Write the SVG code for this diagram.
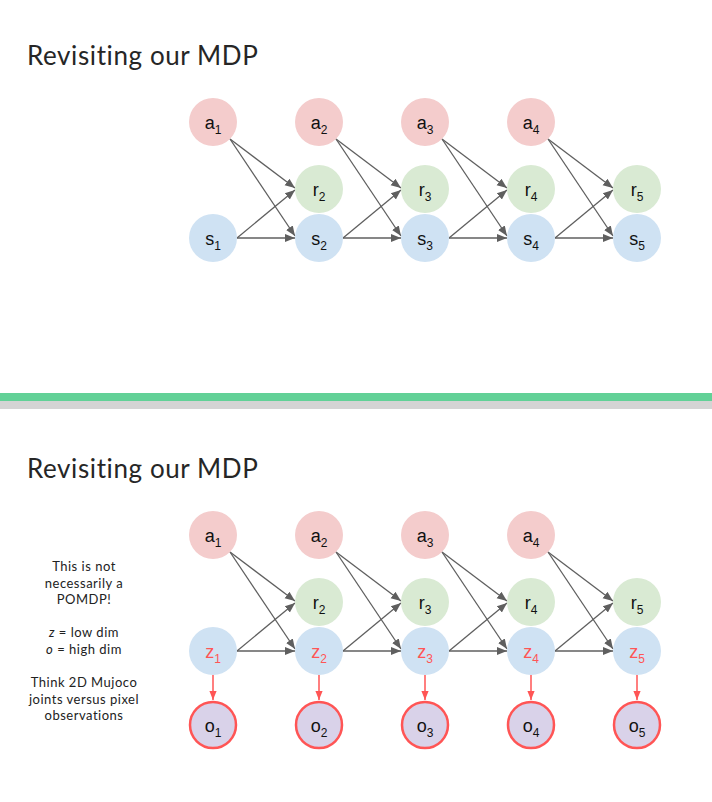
<svg xmlns="http://www.w3.org/2000/svg" width="712" height="802" viewBox="0 0 712 802">
<style>
.title{font-family:Lato,"Liberation Sans",sans-serif;font-size:26px;letter-spacing:0.6px;fill:#262626}
.note{font-family:Lato,"Liberation Sans",sans-serif;font-size:13px;letter-spacing:0.5px;fill:#222;text-anchor:middle}
.lbl{font-family:"Liberation Sans",Arial,sans-serif;font-size:18px;fill:#111;text-anchor:middle}
.sub{font-size:12px}
.zl{fill:#ff5555}
.a{fill:#f4cccc}
.r{fill:#d9ead3}
.s{fill:#cfe2f3}
.o{fill:#d9d2e9;stroke:#ff5555;stroke-width:2.5}
.e{stroke:#5f5f5f;stroke-width:1.3;fill:none;marker-end:url(#ag)}
.er{stroke:#ff5555;stroke-width:1.5;fill:none;marker-end:url(#ar)}
</style>
<defs>
<marker id="ag" markerUnits="userSpaceOnUse" markerWidth="10" markerHeight="10" viewBox="0 0 10 10" refX="10" refY="5" orient="auto"><path d="M0,1 L10,5 L0,9 z" fill="#5f5f5f"/></marker>
<marker id="ar" markerUnits="userSpaceOnUse" markerWidth="9" markerHeight="9" viewBox="0 0 10 10" refX="10" refY="5" orient="auto"><path d="M0,1 L10,5 L0,9 z" fill="#ff5555"/></marker>
</defs>
<rect width="712" height="802" fill="#fff"/>

<text class="title" x="27" y="65">Revisiting our MDP</text>
<text class="title" x="27" y="478">Revisiting our MDP</text>

<rect x="0" y="393" width="712" height="8" fill="#62d197"/>
<rect x="0" y="401" width="712" height="8" fill="#d4d4d4"/>

<g id="note">
<text class="note" x="84" y="571">This is not</text>
<text class="note" x="84" y="587.5">necessarily a</text>
<text class="note" x="84" y="604">POMDP!</text>
<text class="note" x="84" y="637"><tspan font-style="italic">z</tspan> = low dim</text>
<text class="note" x="84" y="653.5"><tspan font-style="italic">o</tspan> = high dim</text>
<text class="note" x="84" y="687">Think 2D Mujoco</text>
<text class="note" x="84" y="703.5">joints versus pixel</text>
<text class="note" x="84" y="720">observations</text>
</g>

<g id="connectors">
<path class="e" d="M230,139 L295,188"/><path class="e" d="M230,139 L295,236"/><path class="e" d="M237,238 L295,190"/><path class="e" d="M237,238 L295,238"/>
<path class="e" d="M336,139 L401,188"/><path class="e" d="M336,139 L401,236"/><path class="e" d="M343,238 L401,190"/><path class="e" d="M343,238 L401,238"/>
<path class="e" d="M442,139 L507,188"/><path class="e" d="M442,139 L507,236"/><path class="e" d="M449,238 L507,190"/><path class="e" d="M449,238 L507,238"/>
<path class="e" d="M548,139 L613,188"/><path class="e" d="M548,139 L613,236"/><path class="e" d="M555,238 L613,190"/><path class="e" d="M555,238 L613,238"/>

<path class="e" d="M230,552 L295,601"/><path class="e" d="M230,552 L295,649"/><path class="e" d="M237,651 L295,603"/><path class="e" d="M237,651 L295,651"/>
<path class="e" d="M336,552 L401,601"/><path class="e" d="M336,552 L401,649"/><path class="e" d="M343,651 L401,603"/><path class="e" d="M343,651 L401,651"/>
<path class="e" d="M442,552 L507,601"/><path class="e" d="M442,552 L507,649"/><path class="e" d="M449,651 L507,603"/><path class="e" d="M449,651 L507,651"/>
<path class="e" d="M548,552 L613,601"/><path class="e" d="M548,552 L613,649"/><path class="e" d="M555,651 L613,603"/><path class="e" d="M555,651 L613,651"/>

<path class="er" d="M213,675 L213,700"/>
<path class="er" d="M319,675 L319,700"/>
<path class="er" d="M425,675 L425,700"/>
<path class="er" d="M531,675 L531,700"/>
<path class="er" d="M637,675 L637,700"/>
</g>

<!-- top panel nodes -->
<g id="t-a1"><circle class="a" cx="213" cy="122" r="24"/><text class="lbl" x="213" y="129">a<tspan class="sub" dy="5">1</tspan></text></g>
<g id="t-a2"><circle class="a" cx="319" cy="122" r="24"/><text class="lbl" x="319" y="129">a<tspan class="sub" dy="5">2</tspan></text></g>
<g id="t-a3"><circle class="a" cx="425" cy="122" r="24"/><text class="lbl" x="425" y="129">a<tspan class="sub" dy="5">3</tspan></text></g>
<g id="t-a4"><circle class="a" cx="531" cy="122" r="24"/><text class="lbl" x="531" y="129">a<tspan class="sub" dy="5">4</tspan></text></g>
<g id="t-r2"><circle class="r" cx="319" cy="189" r="24"/><text class="lbl" x="319" y="196">r<tspan class="sub" dy="5">2</tspan></text></g>
<g id="t-r3"><circle class="r" cx="425" cy="189" r="24"/><text class="lbl" x="425" y="196">r<tspan class="sub" dy="5">3</tspan></text></g>
<g id="t-r4"><circle class="r" cx="531" cy="189" r="24"/><text class="lbl" x="531" y="196">r<tspan class="sub" dy="5">4</tspan></text></g>
<g id="t-r5"><circle class="r" cx="637" cy="189" r="24"/><text class="lbl" x="637" y="196">r<tspan class="sub" dy="5">5</tspan></text></g>
<g id="t-s1"><circle class="s" cx="213" cy="238" r="24"/><text class="lbl" x="213" y="245">s<tspan class="sub" dy="5">1</tspan></text></g>
<g id="t-s2"><circle class="s" cx="319" cy="238" r="24"/><text class="lbl" x="319" y="245">s<tspan class="sub" dy="5">2</tspan></text></g>
<g id="t-s3"><circle class="s" cx="425" cy="238" r="24"/><text class="lbl" x="425" y="245">s<tspan class="sub" dy="5">3</tspan></text></g>
<g id="t-s4"><circle class="s" cx="531" cy="238" r="24"/><text class="lbl" x="531" y="245">s<tspan class="sub" dy="5">4</tspan></text></g>
<g id="t-s5"><circle class="s" cx="637" cy="238" r="24"/><text class="lbl" x="637" y="245">s<tspan class="sub" dy="5">5</tspan></text></g>

<!-- bottom panel nodes -->
<g id="b-a1"><circle class="a" cx="213" cy="535" r="24"/><text class="lbl" x="213" y="542">a<tspan class="sub" dy="5">1</tspan></text></g>
<g id="b-a2"><circle class="a" cx="319" cy="535" r="24"/><text class="lbl" x="319" y="542">a<tspan class="sub" dy="5">2</tspan></text></g>
<g id="b-a3"><circle class="a" cx="425" cy="535" r="24"/><text class="lbl" x="425" y="542">a<tspan class="sub" dy="5">3</tspan></text></g>
<g id="b-a4"><circle class="a" cx="531" cy="535" r="24"/><text class="lbl" x="531" y="542">a<tspan class="sub" dy="5">4</tspan></text></g>
<g id="b-r2"><circle class="r" cx="319" cy="602" r="24"/><text class="lbl" x="319" y="609">r<tspan class="sub" dy="5">2</tspan></text></g>
<g id="b-r3"><circle class="r" cx="425" cy="602" r="24"/><text class="lbl" x="425" y="609">r<tspan class="sub" dy="5">3</tspan></text></g>
<g id="b-r4"><circle class="r" cx="531" cy="602" r="24"/><text class="lbl" x="531" y="609">r<tspan class="sub" dy="5">4</tspan></text></g>
<g id="b-r5"><circle class="r" cx="637" cy="602" r="24"/><text class="lbl" x="637" y="609">r<tspan class="sub" dy="5">5</tspan></text></g>
<g id="b-z1"><circle class="s" cx="213" cy="651" r="24"/><text class="lbl zl" x="213" y="658">z<tspan class="sub" dy="5">1</tspan></text></g>
<g id="b-z2"><circle class="s" cx="319" cy="651" r="24"/><text class="lbl zl" x="319" y="658">z<tspan class="sub" dy="5">2</tspan></text></g>
<g id="b-z3"><circle class="s" cx="425" cy="651" r="24"/><text class="lbl zl" x="425" y="658">z<tspan class="sub" dy="5">3</tspan></text></g>
<g id="b-z4"><circle class="s" cx="531" cy="651" r="24"/><text class="lbl zl" x="531" y="658">z<tspan class="sub" dy="5">4</tspan></text></g>
<g id="b-z5"><circle class="s" cx="637" cy="651" r="24"/><text class="lbl zl" x="637" y="658">z<tspan class="sub" dy="5">5</tspan></text></g>
<g id="b-o1"><circle class="o" cx="213" cy="725" r="23"/><text class="lbl" x="213" y="732">o<tspan class="sub" dy="5">1</tspan></text></g>
<g id="b-o2"><circle class="o" cx="319" cy="725" r="23"/><text class="lbl" x="319" y="732">o<tspan class="sub" dy="5">2</tspan></text></g>
<g id="b-o3"><circle class="o" cx="425" cy="725" r="23"/><text class="lbl" x="425" y="732">o<tspan class="sub" dy="5">3</tspan></text></g>
<g id="b-o4"><circle class="o" cx="531" cy="725" r="23"/><text class="lbl" x="531" y="732">o<tspan class="sub" dy="5">4</tspan></text></g>
<g id="b-o5"><circle class="o" cx="637" cy="725" r="23"/><text class="lbl" x="637" y="732">o<tspan class="sub" dy="5">5</tspan></text></g>
</svg>
